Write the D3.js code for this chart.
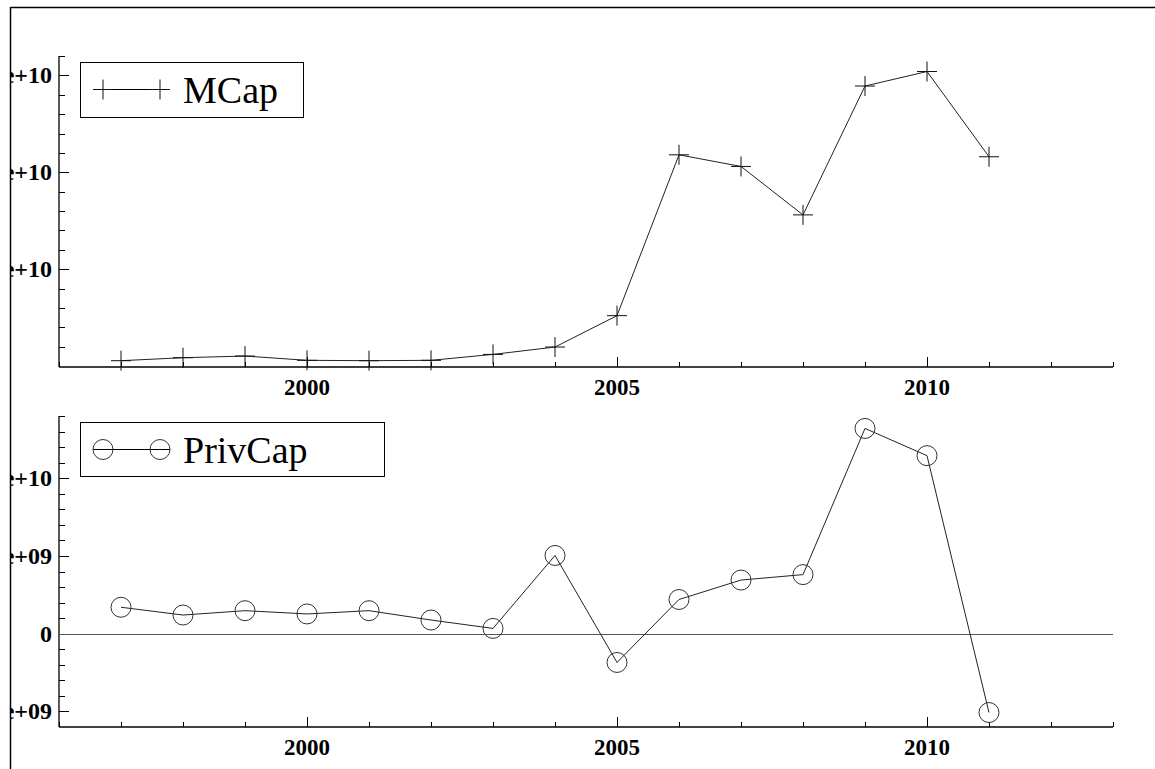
<!DOCTYPE html>
<html>
<head>
<meta charset="utf-8">
<script src="https://cdnjs.cloudflare.com/ajax/libs/d3/7.8.5/d3.min.js"></script>
<style>
  html, body { margin: 0; padding: 0; background: #fff; }
  svg { display: block; }
</style>
</head>
<body>
<script>
// ---- data ----
const years = [1997, 1998, 1999, 2000, 2001, 2002, 2003, 2004, 2005, 2006, 2007, 2008, 2009, 2010, 2011];
const mcap = [0.55e9, 0.86e9, 1.03e9, 0.59e9, 0.55e9, 0.59e9, 1.2e9, 1.96e9, 5.2e9, 21.8e9, 20.6e9, 15.6e9, 28.9e9, 30.4e9, 21.6e9];
const privcap = [1.7e9, 1.2e9, 1.48e9, 1.27e9, 1.48e9, 0.88e9, 0.34e9, 5.03e9, -1.85e9, 2.2e9, 3.45e9, 3.8e9, 13.2e9, 11.45e9, -5.07e9];

const xMajorTicks = [2000, 2005, 2010];
const xTickLabels = ["2000", "2005", "2010"];
const topYTicks = [1e10, 2e10, 3e10];
const topYTickLabels = ["1e+10", "2e+10", "3e+10"];
const botYTicks = [-5e9, 0, 5e9, 1e10];
const botYTickLabels = ["-5e+09", "0", "5e+09", "1e+10"];
const legendTop = "MCap";
const legendBot = "PrivCap";

// ---- layout ----
const W = 1155, H = 769;
const svg = d3.select("body").append("svg").attr("width", W).attr("height", H);

svg.append("defs").append("clipPath").attr("id", "clipL")
  .append("rect").attr("x", 11).attr("y", 0).attr("width", W).attr("height", H);

// frame
svg.append("line").attr("x1", 10.5).attr("x2", W).attr("y1", 7.5).attr("y2", 7.5)
  .attr("stroke", "#000").attr("stroke-width", 1.5);
svg.append("line").attr("x1", 10.5).attr("x2", 10.5).attr("y1", 7).attr("y2", H)
  .attr("stroke", "#000").attr("stroke-width", 1.5);

const x = d3.scaleLinear().domain([1996, 2013]).range([59, 1113]);
const xMinor = d3.range(1996, 2014);

const fontLab = "'Liberation Serif', 'Times New Roman', serif";

function panel(cfg) {
  const g = svg.append("g");
  const y = cfg.y;
  const [yb, yt] = y.range();
  g.append("line").attr("x1", 59).attr("x2", 59).attr("y1", yt).attr("y2", yb)
    .attr("stroke", "#000").attr("stroke-width", 1.3);
  g.append("line").attr("x1", 59).attr("x2", 1113).attr("y1", yb).attr("y2", yb)
    .attr("stroke", "#000").attr("stroke-width", 1.3);
  g.selectAll(".ymin").data(cfg.yMinor).join("line")
    .attr("x1", 59).attr("x2", 65)
    .attr("y1", d => Math.round(y(d)) + 0.5).attr("y2", d => Math.round(y(d)) + 0.5)
    .attr("stroke", "#000").attr("stroke-width", 1);
  g.selectAll(".ymaj").data(cfg.yMajor).join("line")
    .attr("x1", 59).attr("x2", 69)
    .attr("y1", d => Math.round(y(d)) + 0.5).attr("y2", d => Math.round(y(d)) + 0.5)
    .attr("stroke", "#000").attr("stroke-width", 1);
  // y labels (clipped by the frame, as in the reference)
  g.append("g").attr("clip-path", "url(#clipL)")
    .selectAll("text").data(cfg.yMajor).join("text")
    .attr("x", 52).attr("y", d => y(d) + 8)
    .attr("text-anchor", "end")
    .attr("font-family", fontLab).attr("font-weight", "bold").attr("font-size", 24)
    .text((d, i) => cfg.yLabels[i]);
  g.selectAll(".xmin").data(xMinor).join("line")
    .attr("x1", d => Math.round(x(d)) + 0.5).attr("x2", d => Math.round(x(d)) + 0.5)
    .attr("y1", yb).attr("y2", yb - 5)
    .attr("stroke", "#000").attr("stroke-width", 1);
  g.selectAll(".xmaj").data(xMajorTicks).join("line")
    .attr("x1", d => Math.round(x(d)) + 0.5).attr("x2", d => Math.round(x(d)) + 0.5)
    .attr("y1", yb).attr("y2", yb - 10)
    .attr("stroke", "#000").attr("stroke-width", 1);
  g.selectAll(".xlab").data(xMajorTicks).join("text")
    .attr("x", d => x(d)).attr("y", yb + 28)
    .attr("text-anchor", "middle")
    .attr("font-family", fontLab).attr("font-weight", "bold").attr("font-size", 23)
    .text((d, i) => xTickLabels[i]);
  return g;
}

// ---- top panel ----
const yTop = d3.scaleLinear().domain([-1e8, 3.2e10]).range([367, 56]);
const gTop = panel({
  y: yTop,
  yMajor: topYTicks,
  yLabels: topYTickLabels,
  yMinor: d3.range(1, 17).map(i => i * 2e9)
});
const pts1 = years.map((yr, i) => [x(yr), yTop(mcap[i])]);
gTop.append("path").attr("d", d3.line()(pts1))
  .attr("fill", "none").attr("stroke", "#222").attr("stroke-width", 1);
const plus = (g, px, py) => {
  g.append("path").attr("d", `M${px - 10},${py}H${px + 10}M${px},${py - 10}V${py + 10}`)
    .attr("stroke", "#111").attr("stroke-width", 1).attr("fill", "none");
};
pts1.forEach(p => plus(gTop, p[0], p[1]));

gTop.append("rect").attr("x", 80.5).attr("y", 62.5).attr("width", 223).attr("height", 55)
  .attr("fill", "#fff").attr("stroke", "#000").attr("stroke-width", 1);
gTop.append("line").attr("x1", 93).attr("x2", 170).attr("y1", 89.5).attr("y2", 89.5)
  .attr("stroke", "#000").attr("stroke-width", 1);
plus(gTop, 103, 89.5);
plus(gTop, 160, 89.5);
gTop.append("text").attr("x", 183).attr("y", 103)
  .attr("font-family", fontLab).attr("font-size", 38).text(legendTop);

// ---- bottom panel ----
const yBot = d3.scaleLinear().domain([-6e9, 1.4e10]).range([727, 416]);
const gBot = panel({
  y: yBot,
  yMajor: botYTicks,
  yLabels: botYTickLabels,
  yMinor: d3.range(-5, 15).map(i => i * 1e9)
});
gBot.append("line").attr("x1", 59).attr("x2", 1113)
  .attr("y1", Math.round(yBot(0)) + 0.5).attr("y2", Math.round(yBot(0)) + 0.5)
  .attr("stroke", "#555").attr("stroke-width", 1);
const pts2 = years.map((yr, i) => [x(yr), yBot(privcap[i])]);
gBot.append("path").attr("d", d3.line()(pts2))
  .attr("fill", "none").attr("stroke", "#222").attr("stroke-width", 1);
const circ = (g, px, py) => {
  g.append("circle").attr("cx", px).attr("cy", py).attr("r", 10)
    .attr("fill", "none").attr("stroke", "#333").attr("stroke-width", 1);
};
pts2.forEach(p => circ(gBot, p[0], p[1]));

gBot.append("rect").attr("x", 80.5).attr("y", 422.5).attr("width", 304).attr("height", 54)
  .attr("fill", "#fff").attr("stroke", "#000").attr("stroke-width", 1);
gBot.append("line").attr("x1", 93).attr("x2", 170).attr("y1", 449.5).attr("y2", 449.5)
  .attr("stroke", "#000").attr("stroke-width", 1);
circ(gBot, 103, 449.5);
circ(gBot, 160, 449.5);
gBot.append("text").attr("x", 183).attr("y", 463)
  .attr("font-family", fontLab).attr("font-size", 38).text(legendBot);
</script>
</body>
</html>
